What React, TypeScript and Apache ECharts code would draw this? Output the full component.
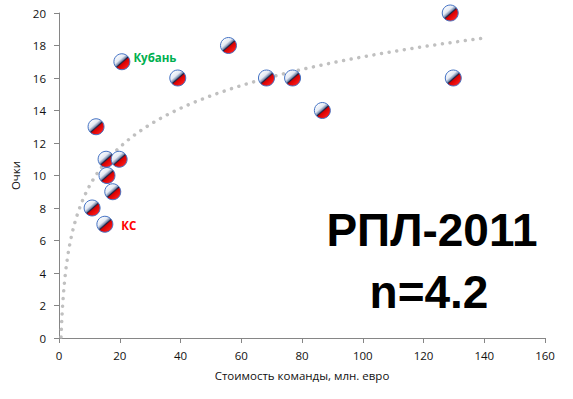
import React, { useEffect, useRef } from "react";
import * as echarts from "echarts";

const costs = [12.2, 15.5, 19.8, 15.8, 17.7, 10.9, 15.1, 20.7, 39.1, 55.8, 68.3, 76.9, 86.7, 128.8, 129.8];
const points = [13, 11, 11, 10, 9, 8, 7, 17, 16, 18, 16, 16, 14, 20, 16];
const labels = ["", "", "", "", "", "", "КС", "Кубань", "", "", "", "", "", "", ""];
const xTicks = { min: 0, max: 160, interval: 20 };
const yTicks = { min: 0, max: 20, interval: 2 };
const trendRange = [0.68, 140];
const bigTitle = "РПЛ-2011";
const subTitle = "n=4.2";

function logFit(xs: number[], ys: number[]) {
  const lx = xs.map((v) => Math.log(v));
  const n = xs.length;
  const mL = lx.reduce((a, b) => a + b, 0) / n;
  const mY = ys.reduce((a, b) => a + b, 0) / n;
  let sxy = 0, sxx = 0;
  for (let i = 0; i < n; i++) {
    sxy += (lx[i] - mL) * (ys[i] - mY);
    sxx += (lx[i] - mL) * (lx[i] - mL);
  }
  const a = sxy / sxx;
  return { a, b: mY - a * mL };
}

export default function App() {
  const ref = useRef<HTMLDivElement>(null);
  useEffect(() => {
    document.body.style.margin = "0";
    const chart = echarts.init(ref.current!, undefined, { renderer: "svg" });
    const { a, b } = logFit(costs, points);
    const trend: number[][] = [];
    const steps = 400;
    for (let i = 0; i <= steps; i++) {
      const t = i / steps;
      const x = trendRange[0] * Math.pow(trendRange[1] / trendRange[0], t);
      trend.push([x, a * Math.log(x) + b]);
    }
    const ball = {
      type: "linear",
      x: 0.15,
      y: 0.1,
      x2: 0.85,
      y2: 0.9,
      global: false,
      colorStops: [
        { offset: 0, color: "#ffffff" },
        { offset: 0.32, color: "#e4eaf4" },
        { offset: 0.46, color: "#8090b0" },
        { offset: 0.53, color: "#1c2344" },
        { offset: 0.6, color: "#d80000" },
        { offset: 1, color: "#ff2020" },
      ],
    };
    const data = costs.map((x, i) => {
      const item: any = { value: [x, points[i]] };
      if (labels[i] === "Кубань") {
        item.label = { show: true, formatter: labels[i], position: "right", distance: 3, offset: [0, -4], color: "#00b050", fontWeight: "bold", fontSize: 11.5, fontFamily: "Open Sans" };
      } else if (labels[i] === "КС") {
        item.label = { show: true, formatter: labels[i], position: "right", distance: 8, offset: [0, 1], color: "#ff0000", fontWeight: "bold", fontSize: 11.5, fontFamily: "Open Sans" };
      }
      return item;
    });
    const axisFont = { color: "#111111", fontSize: 11.5, fontFamily: "Open Sans" };
    chart.setOption({
      animation: false,
      backgroundColor: "#ffffff",
      grid: { left: 59, right: 28, top: 13, bottom: 61 },
      xAxis: {
        type: "value",
        min: xTicks.min,
        max: xTicks.max,
        interval: xTicks.interval,
        name: "Стоимость команды, млн. евро",
        nameLocation: "middle",
        nameGap: 31,
        nameTextStyle: axisFont,
        axisLine: { lineStyle: { color: "#868686", width: 1 } },
        axisTick: { show: true, length: 5, lineStyle: { color: "#868686" } },
        axisLabel: { ...axisFont, margin: 11 },
        splitLine: { show: false },
      },
      yAxis: {
        type: "value",
        min: yTicks.min,
        max: yTicks.max,
        interval: yTicks.interval,
        name: "Очки",
        nameLocation: "middle",
        nameGap: 28,
        nameTextStyle: axisFont,
        axisLine: { show: true, lineStyle: { color: "#868686", width: 1 } },
        axisTick: { show: true, length: 5, lineStyle: { color: "#868686" } },
        axisLabel: { ...axisFont, margin: 13 },
        splitLine: { show: false },
      },
      series: [
        {
          type: "line",
          data: trend,
          showSymbol: false,
          silent: true,
          lineStyle: { color: "#c0c0c0", width: 3.5, type: [0.01, 7.7], cap: "round" },
          z: 1,
        },
        {
          type: "scatter",
          data,
          symbol: "circle",
          symbolSize: 16,
          itemStyle: { color: ball as any, borderColor: "#4472c4", borderWidth: 1, opacity: 1 },
          z: 3,
        },
      ],
      graphic: [
        {
          type: "text",
          x: 432,
          y: 230,
          style: { text: bigTitle, fill: "#000", font: "bold 46px 'Liberation Sans'", textAlign: "center", textVerticalAlign: "middle" },
        },
        {
          type: "text",
          x: 429,
          y: 292,
          style: { text: subTitle, fill: "#000", font: "bold 46px 'Liberation Sans'", textAlign: "center", textVerticalAlign: "middle" },
        },
      ],
    });
    return () => chart.dispose();
  }, []);
  return <div ref={ref} style={{ width: 573, height: 399 }} />;
}
